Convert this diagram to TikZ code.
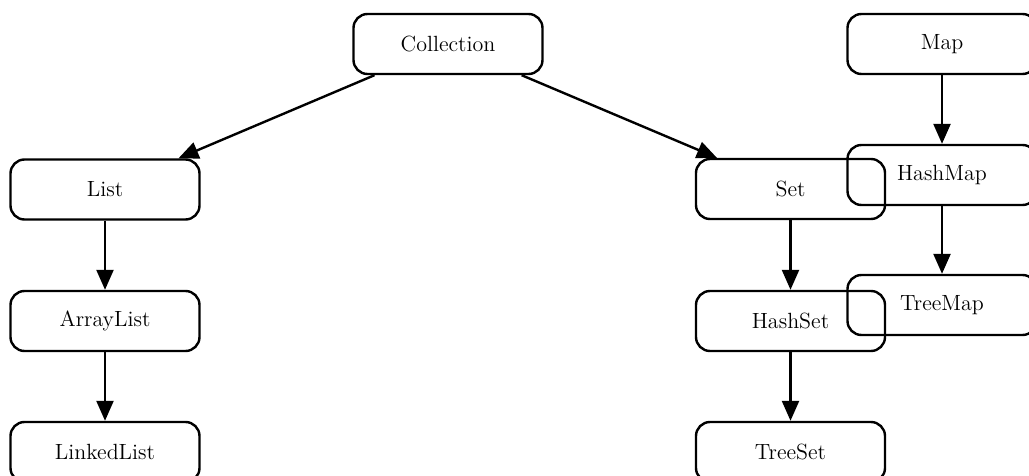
\documentclass[tikz,border=0pt]{standalone}
\usetikzlibrary{arrows.meta}
\begin{document}
\begin{tikzpicture}[x=0.5pt,y=-0.5pt,
  box/.style={draw, line width=1.2pt, rounded corners=7pt, minimum width=94.5pt, minimum height=30pt, inner sep=0pt, font=\fontsize{11}{13}\selectfont},
  link/.style={line width=1.2pt, -{Triangle[length=10pt,width=8.5pt]}}]
\useasboundingbox (0,0) rectangle (1029,476);
\node[box] (coll) at (448,44) {Collection};
\node[box] (map) at (942,44) {Map};
\node[box] (list) at (105,189.5) {List};
\node[box] (set) at (790.5,189) {Set};
\node[box] (hmap) at (942,175) {HashMap};
\node[box] (alist) at (105,321) {ArrayList};
\node[box] (hset) at (790.5,321) {HashSet};
\node[box] (tmap) at (942,305) {TreeMap};
\node[box] (llist) at (105,452) {LinkedList};
\node[box] (tset) at (790.5,452) {TreeSet};
\draw[link] (coll) -- (list);
\draw[link] (coll) -- (set);
\draw[link] (list) -- (alist);
\draw[link] (alist) -- (llist);
\draw[link] (set) -- (hset);
\draw[link] (hset) -- (tset);
\draw[link] (map) -- (hmap);
\draw[link] (hmap) -- (tmap);
\end{tikzpicture}
\end{document}
